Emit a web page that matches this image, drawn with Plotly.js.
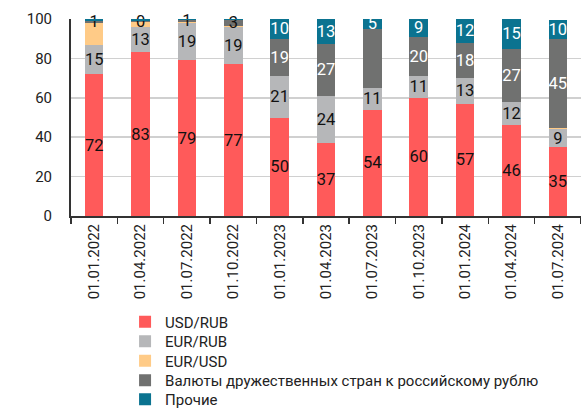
<!DOCTYPE html>
<html><head><meta charset="utf-8">
<script src="https://cdn.plot.ly/plotly-3.0.1.min.js"></script>
<style>html,body{margin:0;padding:0;background:#fff}#chart{width:581px;height:409px}</style>
</head><body><div id="chart"></div>
<script>
const categories = ['01.01.2022','01.04.2022','01.07.2022','01.10.2022','01.01.2023','01.04.2023','01.07.2023','01.10.2023','01.01.2024','01.04.2024','01.07.2024'];
const usdRub   = [72, 83, 79, 77, 50, 37, 54, 60, 57, 46, 35];
const eurRub   = [15, 13, 19, 19, 21, 24, 11, 11, 13, 12, 9];
const eurUsd   = [11, 2.5, 0.5, 0.5, 0, 0, 0, 0, 0, 0, 0.7];
const friendly = [1, 0.3, 1, 3, 19, 26.5, 30, 20, 18, 27, 45];
const other    = [1, 1.2, 0.5, 0.5, 10, 12.5, 5, 9, 12, 15, 10];
// which points carry a value label
const friendlyShown = [true, true, true, true, true, true, false, true, true, true, true];
const otherShown    = [false, false, false, false, true, true, true, true, true, true, true];

const names = ['USD/RUB','EUR/RUB','EUR/USD','Валюты дружественных стран к российскому рублю','Прочие'];
const colors = ['#FF5A5A','#B6B7B9','#FFCB87','#707170','#0B7390'];
const legendIds = ['legend','legend2','legend3','legend4','legend5'];

function tr(vals, i, shown, txtColors){
  return {
    type:'bar', x:categories, y:vals, name:names[i], legend:legendIds[i],
    marker:{color:colors[i], line:{width:0}},
    text: vals.map((v,k)=> shown===null ? '' : (shown[k] ? String(Math.round(v)) : '')),
    textposition:'inside', insidetextanchor:'middle', constraintext:'none', textangle:0,
    textfont:{family:'Roboto, sans-serif', size:16.5, color: txtColors},
    hoverinfo:'skip', cliponaxis:false
  };
}
const allTrue = categories.map(()=>true);
const data = [
  tr(usdRub, 0, allTrue, '#111'),
  tr(eurRub, 1, allTrue, '#111'),
  tr(eurUsd, 2, null, '#111'),
  tr(friendly, 3, friendlyShown, friendly.map(v => v < 5 ? '#111' : '#fff')),
  tr(other, 4, otherShown, '#fff')
];
const plotTop = 19, plotBottom = 216;
function legendAt(py){
  return {x:0.106, xanchor:'left', y:(plotBottom - py)/(plotBottom - plotTop), yanchor:'middle',
    font:{size:15, color:'#222'}, bgcolor:'rgba(0,0,0,0)', borderwidth:0, itemwidth:30};
}
const legendRows = [322, 341.5, 361, 380.5, 399.5];
const layout = {
  width:581, height:409,
  margin:{l:71, r:0, t:plotTop, b:409-plotBottom, autoexpand:false},
  barmode:'stack', bargap:0.6,
  paper_bgcolor:'#fff', plot_bgcolor:'#fff',
  font:{family:'Roboto, sans-serif', size:15, color:'#222'},
  showlegend:true,
  xaxis:{type:'category', tickangle:-90, showgrid:false, showline:true, linecolor:'#333', linewidth:2,
    ticks:'outside', tickson:'boundaries', ticklen:6, tickcolor:'#333', tickwidth:1.5,
    tickfont:{size:15, color:'#222'}},
  yaxis:{range:[0,100], dtick:20, showgrid:true, gridcolor:'#D0D0D0', gridwidth:1.5,
    showline:true, linecolor:'#333', linewidth:2, ticks:'', ticklabelstandoff:14,
    tickfont:{size:15, color:'#222'}, zeroline:false}
};
legendIds.forEach((id,i)=>{ layout[id] = legendAt(legendRows[i]); });
Plotly.newPlot('chart', data, layout, {staticPlot:true});
</script></body></html>
